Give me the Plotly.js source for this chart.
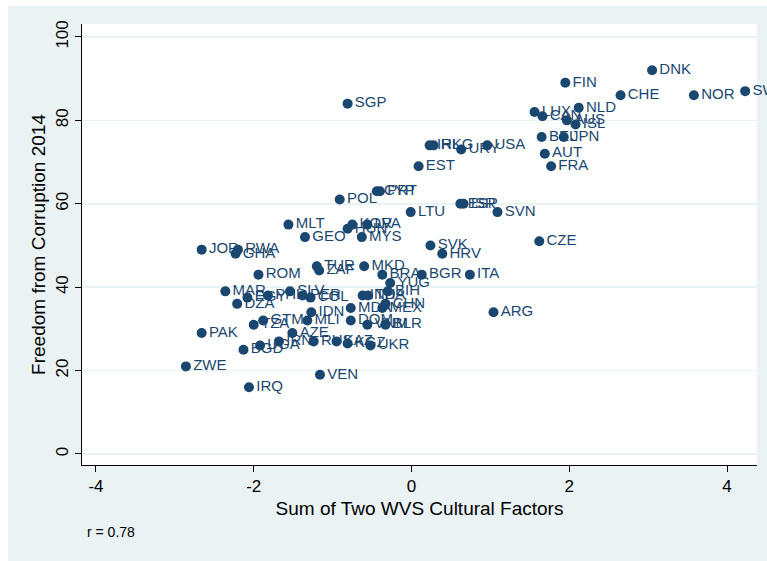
<!DOCTYPE html>
<html>
<head>
<meta charset="utf-8">
<script src="https://cdn.plot.ly/plotly-3.0.1.min.js"></script>
<style>
html,body{margin:0;padding:0;background:#ffffff;}
#chart{position:absolute;left:8px;top:6px;width:759px;height:555px;}
</style>
</head>
<body>
<div id="chart"></div>
<script>
const countries = ["DNK","FIN","CHE","NOR","SWE","NLD","LUX","CAN","AUS","ISL","BEL","JPN","AUT","FRA","USA","URY","IRL","HKG","EST","SGP","CYP","PRT","POL","LTU","SVN","ESP","ISR","CZE","SVK","HRV","MLT","HUN","KOR","LVA","GEO","MYS","JOR","RWA","GHA","ROM","TUR","ZAF","MKD","BRA","BGR","ITA","YUG","BIH","IND","THA","CHN","MEX","MDA","ARG","VNM","BLR","DOM","UKR","MAR","DZA","EGY","PHL","SLV","PER","COL","GTM","TZA","MLI","IDN","AZE","PAK","BGD","UGA","IRN","RUS","KAZ","KGZ","ZWE","VEN","IRQ"];
const culturalFactors = [3.05,1.95,2.65,3.58,4.23,2.12,1.56,1.66,1.97,2.08,1.65,1.93,1.69,1.77,0.96,0.63,0.23,0.28,0.09,-0.81,-0.44,-0.40,-0.91,-0.01,1.09,0.62,0.66,1.62,0.24,0.39,-1.56,-0.81,-0.75,-0.56,-1.35,-0.63,-2.66,-2.20,-2.23,-1.94,-1.20,-1.17,-0.60,-0.37,0.13,0.74,-0.27,-0.30,-0.62,-0.55,-0.33,-0.37,-0.77,1.04,-0.56,-0.33,-0.77,-0.52,-2.36,-2.21,-2.08,-1.82,-1.54,-1.38,-1.28,-1.88,-2.00,-1.32,-1.27,-1.51,-2.66,-2.13,-1.92,-1.68,-1.24,-0.95,-0.81,-2.86,-1.16,-2.06];
const freedomFromCorruption = [92,89,86,86,87,83,82,81,80,79,76,76,72,69,74,73,74,74,69,84,63,63,61,58,58,60,60,51,50,48,55,54,55,55,52,52,49,49,48,43,45,44,45,43,43,43,41,39,38,38,36,35,35,34,31,31,32,26,39,36,37.5,38,39,38,37.5,32,31,32,34,29,29,25,26,27,27,27,26.5,21,19,16];
const rText = "r = 0.78";

const navy = "#1a476f";
const trace = {
  type: "scatter",
  mode: "markers+text",
  x: culturalFactors,
  y: freedomFromCorruption,
  text: countries,
  textposition: "middle right",
  textfont: {family: "Liberation Sans, Arial, sans-serif", size: 15, color: navy},
  marker: {color: navy, size: 10, line: {width: 0}},
  cliponaxis: false,
  hoverinfo: "x+y+text"
};

const layout = {
  width: 759, height: 555,
  paper_bgcolor: "#eaf2f3",
  plot_bgcolor: "#ffffff",
  margin: {l: 74, r: 10, t: 18, b: 96},
  showlegend: false,
  font: {family: "Liberation Sans, Arial, sans-serif", color: "#000000"},
  xaxis: {
    range: [-4.177, 4.38],
    tickvals: [-4, -2, 0, 2, 4],
    ticktext: ["-4", "-2", "0", "2", "4"],
    ticks: "outside", ticklen: 6, tickcolor: "#000", tickwidth: 1,
    showgrid: false, zeroline: false,
    showline: true, linecolor: "#000", linewidth: 1,
    tickfont: {size: 17, color: "#000"},
    title: {text: "Sum of Two WVS Cultural Factors", font: {size: 19, color: "#000"}, standoff: 6}
  },
  yaxis: {
    range: [-2.64, 103.1],
    tickvals: [0, 20, 40, 60, 80, 100],
    tickangle: -90,
    ticks: "outside", ticklen: 6, tickcolor: "#000", tickwidth: 1,
    showgrid: true, gridcolor: "#eaf2f3", gridwidth: 1.5,
    zeroline: false,
    showline: true, linecolor: "#000", linewidth: 1,
    tickfont: {size: 17, color: "#000"},
    title: {text: "Freedom from Corruption 2014", font: {size: 19, color: "#000"}, standoff: 2}
  },
  annotations: [{
    text: rText, xref: "paper", yref: "paper", x: 0.004, y: -0.152,
    xanchor: "left", yanchor: "middle", showarrow: false,
    font: {size: 14, color: "#000"}
  }]
};

Plotly.newPlot("chart", [trace], layout, {displayModeBar: false, staticPlot: true});
</script>
</body>
</html>
